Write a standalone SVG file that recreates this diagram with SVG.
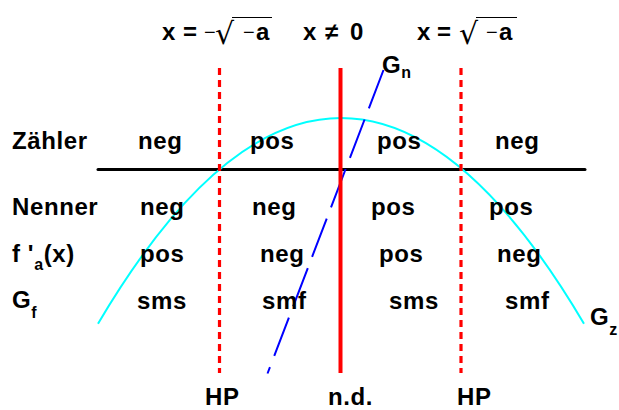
<svg xmlns="http://www.w3.org/2000/svg" width="619" height="410" viewBox="0 0 619 410">
<style>
text{font-family:"Liberation Sans",Arial,sans-serif;font-weight:bold;font-size:24px;letter-spacing:0.6px;fill:#000}
.sub{font-size:16px}
.mn{font-weight:normal;font-size:20px;letter-spacing:0}
.rad{font-family:"DejaVu Sans","Liberation Sans",sans-serif;font-weight:normal;font-size:30px;letter-spacing:0}
.hp{stroke:#ff0000;stroke-width:3.2;stroke-dasharray:7 5;fill:none}
.nd{stroke:#ff0000;stroke-width:4;fill:none}
.axis{stroke:#000;stroke-width:3;fill:none;stroke-linecap:round}
.gz{stroke:#00ffff;stroke-width:2;fill:none}
.gn{stroke:#0000ff;stroke-width:2;stroke-dasharray:41 12;fill:none}
.ov{stroke:#000;stroke-width:1}
</style>
<rect width="619" height="410" fill="#fff"/>
<g id="connectors">
  <line class="axis" x1="98" y1="169.5" x2="585" y2="169.5"/>
  <path id="curve-Gz" class="gz" d="M98,323.7 Q341,-87.7 584,323.7"/>
  <line id="line-Gn" class="gn" x1="383.5" y1="70" x2="267.5" y2="373.5"/>
  <line id="hp-left" class="hp" x1="219.5" y1="68" x2="219.5" y2="373"/>
  <line id="nd-line" class="nd" x1="340.5" y1="68" x2="340.5" y2="373"/>
  <line id="hp-right" class="hp" x1="461" y1="68" x2="461" y2="373"/>
</g>
<g id="header">
  <g id="h-left">
    <text x="162" y="40">x</text>
    <text x="183" y="40">=</text>
    <text class="mn" x="204" y="39">−</text>
    <text class="rad" x="215" y="44">√</text>
    <line class="ov" x1="232" y1="17.5" x2="272" y2="17.5"/>
    <text class="mn" x="243" y="39">−</text>
    <text x="256" y="40">a</text>
  </g>
  <g id="h-mid">
    <text x="303" y="40">x</text>
    <text x="325" y="40">≠</text>
    <text x="350" y="40">0</text>
  </g>
  <g id="h-right">
    <text x="417" y="40">x</text>
    <text x="437" y="40">=</text>
    <text class="rad" x="459" y="44">√</text>
    <line class="ov" x1="476" y1="17.5" x2="517" y2="17.5"/>
    <text class="mn" x="486" y="39">−</text>
    <text x="499" y="40">a</text>
  </g>
</g>
<g id="row-zaehler">
  <text x="12" y="149">Zähler</text>
  <text x="138" y="149">neg</text>
  <text x="250" y="149">pos</text>
  <text x="377" y="149">pos</text>
  <text x="495" y="149">neg</text>
</g>
<g id="row-nenner">
  <text x="12" y="215">Nenner</text>
  <text x="140" y="215">neg</text>
  <text x="252" y="215">neg</text>
  <text x="371" y="215">pos</text>
  <text x="489" y="215">pos</text>
</g>
<g id="row-fa">
  <text x="12" y="262">f '<tspan class="sub" dy="8">a</tspan><tspan dy="-8">(x)</tspan></text>
  <text x="140" y="262">pos</text>
  <text x="260" y="262">neg</text>
  <text x="379" y="262">pos</text>
  <text x="497" y="262">neg</text>
</g>
<g id="row-gf">
  <text x="12" y="308">G<tspan class="sub" dy="10">f</tspan></text>
  <text x="137" y="309">sms</text>
  <text x="262" y="309">smf</text>
  <text x="389" y="309">sms</text>
  <text x="505" y="309">smf</text>
</g>
<g id="label-Gn">
  <text x="382" y="73">G<tspan class="sub" dy="5">n</tspan></text>
</g>
<g id="label-Gz">
  <text x="590" y="325">G<tspan class="sub" dy="10">z</tspan></text>
</g>
<g id="bottom-labels">
  <text id="hp1" x="205" y="405">HP</text>
  <text id="nd" x="328" y="405">n.d.</text>
  <text id="hp2" x="457" y="405">HP</text>
</g>
</svg>
